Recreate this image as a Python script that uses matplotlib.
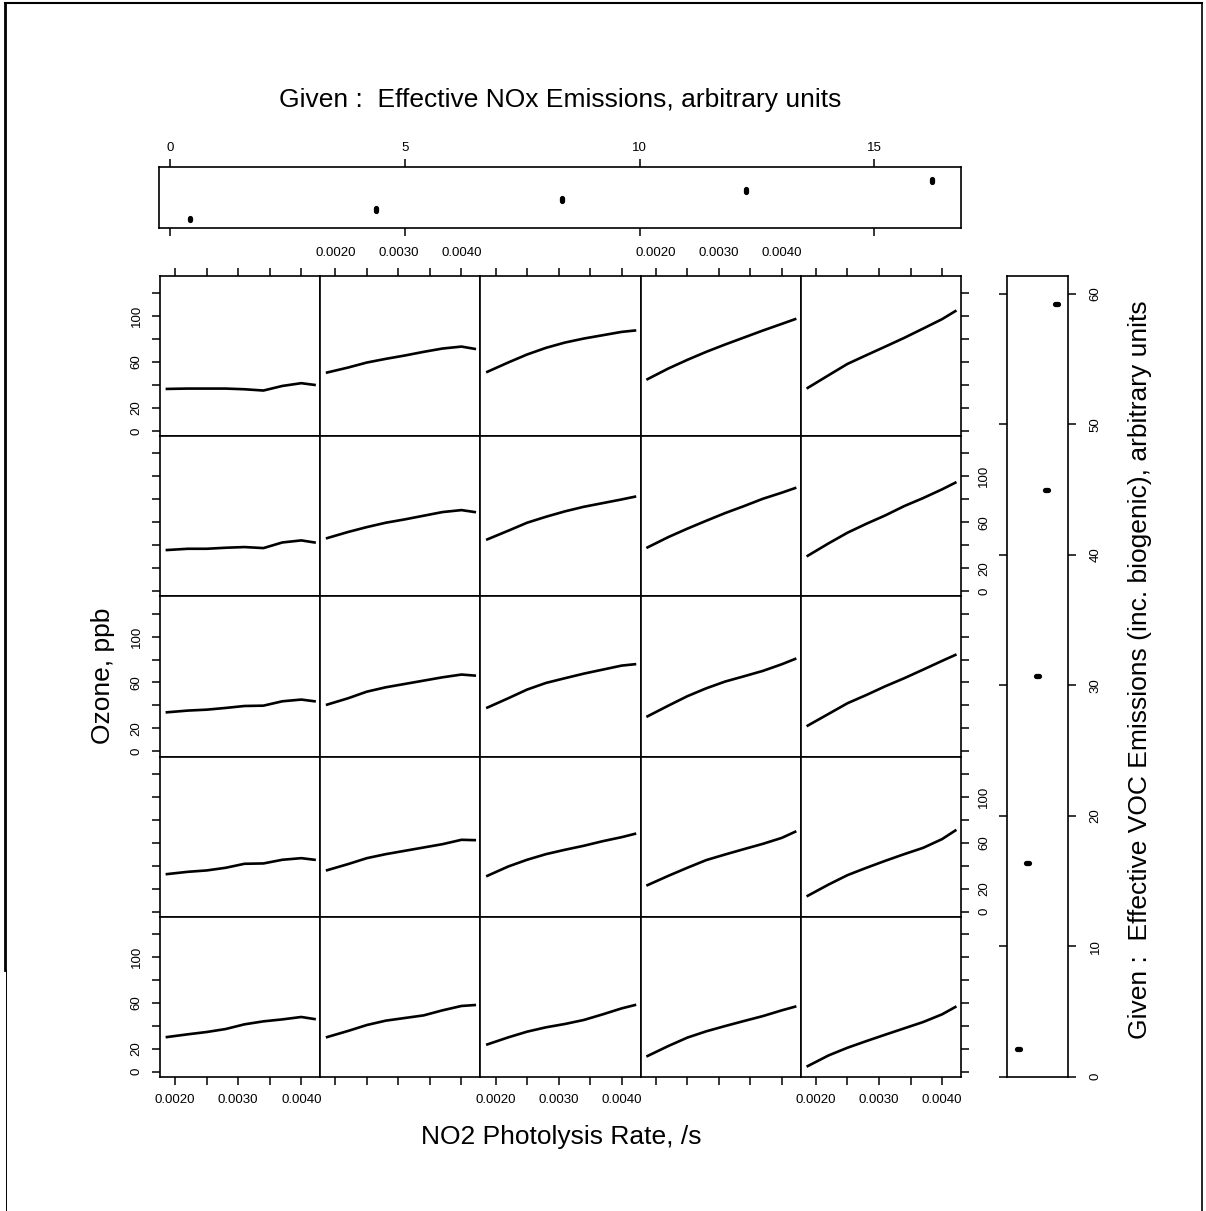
import matplotlib
matplotlib.use('Agg')
import matplotlib.pyplot as plt
from matplotlib.lines import Line2D

plt.rcParams['font.family'] = ['Liberation Sans', 'DejaVu Sans']

# NO2 photolysis rate (x of every panel)
no2_rate = [0.00187, 0.0022, 0.0025, 0.0028, 0.0031, 0.0034, 0.0037, 0.0040, 0.00421]

# given values (conditioning variables)
nox_given = [0.43, 4.39, 8.35, 12.27, 16.22]
voc_given = [2.15, 16.4, 30.7, 45.0, 59.25]

# ozone curves, one list per VOC level (low -> high), each with 5 NOx levels (low -> high)
ozone_voc1 = [
    [30.2, 32.6, 34.6, 37.2, 41.3, 43.9, 45.6, 47.7, 45.9],
    [30.2, 35.5, 40.7, 44.5, 46.8, 49.1, 53.5, 57.3, 58.1],
    [23.8, 29.9, 34.9, 38.7, 41.6, 45.1, 50.0, 55.2, 58.1],
    [13.7, 22.4, 29.7, 35.2, 39.8, 44.2, 48.5, 53.5, 56.7],
    [4.9, 14.2, 20.9, 26.7, 32.3, 37.8, 43.3, 50.0, 56.4],
]
ozone_voc2 = [
    [32.6, 34.6, 35.8, 38.1, 41.6, 41.9, 45.1, 46.5, 45.1],
    [36.0, 41.3, 46.5, 50.0, 52.9, 55.8, 58.7, 62.5, 62.2],
    [31.1, 39.2, 45.1, 50.0, 53.8, 57.3, 61.3, 64.8, 67.7],
    [23.0, 31.1, 38.1, 44.8, 49.7, 54.4, 59.0, 64.2, 69.5],
    [13.7, 23.5, 31.7, 38.1, 44.2, 50.0, 55.5, 63.1, 70.6],
]
ozone_voc3 = [
    [34.0, 35.5, 36.3, 37.8, 39.5, 39.8, 43.6, 45.1, 43.6],
    [40.7, 46.2, 52.0, 55.8, 58.7, 61.6, 64.5, 66.9, 66.0],
    [38.1, 46.2, 53.8, 59.6, 63.7, 67.7, 71.2, 74.7, 75.9],
    [30.5, 39.8, 48.0, 54.9, 60.8, 65.4, 70.1, 75.9, 80.5],
    [22.4, 32.6, 41.9, 49.1, 56.7, 63.7, 71.2, 78.8, 84.0],
]
ozone_voc4 = [
    [35.8, 36.9, 36.9, 37.8, 38.4, 37.5, 42.4, 44.2, 42.4],
    [46.2, 51.5, 55.8, 59.6, 62.5, 65.7, 68.9, 70.6, 68.9],
    [45.1, 52.6, 59.6, 64.8, 69.5, 73.5, 76.7, 79.9, 82.3],
    [38.1, 47.1, 54.4, 61.3, 68.0, 74.1, 80.5, 85.8, 89.8],
    [30.8, 41.6, 50.9, 58.7, 66.0, 74.1, 81.1, 88.7, 94.5],
]
ozone_voc5 = [
    [36.6, 36.9, 36.9, 36.9, 36.3, 35.2, 39.2, 41.6, 40.1],
    [50.9, 55.2, 59.6, 62.8, 65.7, 68.9, 71.8, 73.5, 71.5],
    [51.5, 59.6, 66.6, 72.4, 77.0, 80.5, 83.4, 86.3, 87.5],
    [45.1, 54.4, 61.9, 68.9, 75.3, 81.4, 87.5, 93.3, 97.4],
    [37.5, 48.5, 58.4, 66.0, 73.5, 81.1, 89.2, 97.4, 104.4],
]
ozone_by_voc = [ozone_voc1, ozone_voc2, ozone_voc3, ozone_voc4, ozone_voc5]

x_ticks = [0.0020, 0.0025, 0.0030, 0.0035, 0.0040]
x_ticklabels = ['0.0020', '', '0.0030', '', '0.0040']
y_ticks = [0, 20, 40, 60, 80, 100, 120]
y_ticklabels = ['0', '20', '', '60', '', '100', '']

W, H = 1206, 1211
fig = plt.figure(figsize=(W / 100, H / 100), dpi=100)


def add_px_axes(x0, y0, x1, y1):
    # pixel box (top-left origin) -> figure fraction
    return fig.add_axes([x0 / W, 1 - y1 / H, (x1 - x0) / W, (y1 - y0) / H])


def style(ax):
    for s in ax.spines.values():
        s.set_linewidth(1.2)
    ax.tick_params(which='both', direction='out', length=5.5, width=1.1,
                   labelsize=9.5, pad=7)


# main 5x5 grid
GX0, GX1, GY0, GY1 = 160, 961, 276, 1077
cw = (GX1 - GX0) / 5
rh = (GY1 - GY0) / 5
for r in range(5):
    for c in range(5):
        ax = add_px_axes(GX0 + c * cw, GY0 + r * rh, GX0 + (c + 1) * cw, GY0 + (r + 1) * rh)
        ax.plot(no2_rate, ozone_by_voc[4 - r][c], color='black', lw=1.9,
                solid_joinstyle='round')
        ax.set_xlim(0.00176, 0.0043)
        ax.set_ylim(-4.6, 135)
        ax.set_xticks(x_ticks)
        ax.set_xticklabels(x_ticklabels)
        ax.set_yticks(y_ticks)
        ax.set_yticklabels(y_ticklabels)
        style(ax)
        ax.tick_params(top=(r == 0), bottom=(r == 4), left=(c == 0), right=(c == 4),
                       labeltop=(r == 0 and c % 2 == 1),
                       labelbottom=(r == 4 and c % 2 == 0),
                       labelleft=(c == 0 and r % 2 == 0),
                       labelright=(c == 4 and r % 2 == 1))
        for t in ax.yaxis.get_major_ticks():
            for lab in (t.label1, t.label2):
                lab.set_rotation(90)
                lab.set_va('center')

# given panel for NOx (top)
axt = add_px_axes(159.4, 167.3, 960.7, 228.3)
for i, v in enumerate(nox_given):
    axt.plot([v, v], [i + 1 - 0.15, i + 1 + 0.15], color='black', lw=3.8,
             solid_capstyle='round')
axt.set_xlim(-0.224, 16.84)
axt.set_ylim(0.03, 6.4)
axt.set_xticks([0, 5, 10, 15])
axt.set_yticks([])
style(axt)
axt.tick_params(top=True, bottom=True, labeltop=True, labelbottom=False, pad=4)

# given panel for VOC (right)
axr = add_px_axes(1007, 276, 1068, 1077)
for i, v in enumerate(voc_given):
    axr.plot([i + 1 - 0.16, i + 1 + 0.16], [v, v], color='black', lw=3.8,
             solid_capstyle='round')
axr.set_ylim(-0.02, 61.38)
axr.set_xlim(-0.19, 6.26)
axr.set_yticks([0, 10, 20, 30, 40, 50, 60])
axr.set_xticks([])
style(axr)
axr.tick_params(left=True, right=True, labelleft=False, labelright=True, pad=10)
for lab in axr.get_yticklabels():
    lab.set_rotation(90)
    lab.set_va('center')

# titles
fig.text(560.5 / W, 1 - 100 / H, 'Given :  Effective NOx Emissions, arbitrary units',
         ha='center', va='center', fontsize=19)
fig.text(561 / W, 1 - 1137 / H, 'NO2 Photolysis Rate, /s',
         ha='center', va='center', fontsize=19)
fig.text(103 / W, 1 - 676 / H, 'Ozone, ppb', rotation=90,
         ha='center', va='center', fontsize=19)
fig.text(1140 / W, 1 - 670 / H,
         'Given :  Effective VOC Emissions (inc. biogenic), arbitrary units',
         rotation=90, ha='center', va='center', fontsize=19)

# scanned page border
fig.add_artist(Line2D([5 / W, 1202 / W], [1 - 3 / H, 1 - 3 / H], color='black', lw=1.5))
fig.add_artist(Line2D([5 / W, 5 / W], [1 - 3 / H, 1 - 970 / H], color='black', lw=2))
fig.add_artist(Line2D([6 / W, 6 / W], [1 - 970 / H, 0], color='black', lw=0.7))
fig.add_artist(Line2D([1202 / W, 1202 / W], [1 - 3 / H, 0], color='black', lw=1.2))

fig.savefig('out.png', dpi=100)
